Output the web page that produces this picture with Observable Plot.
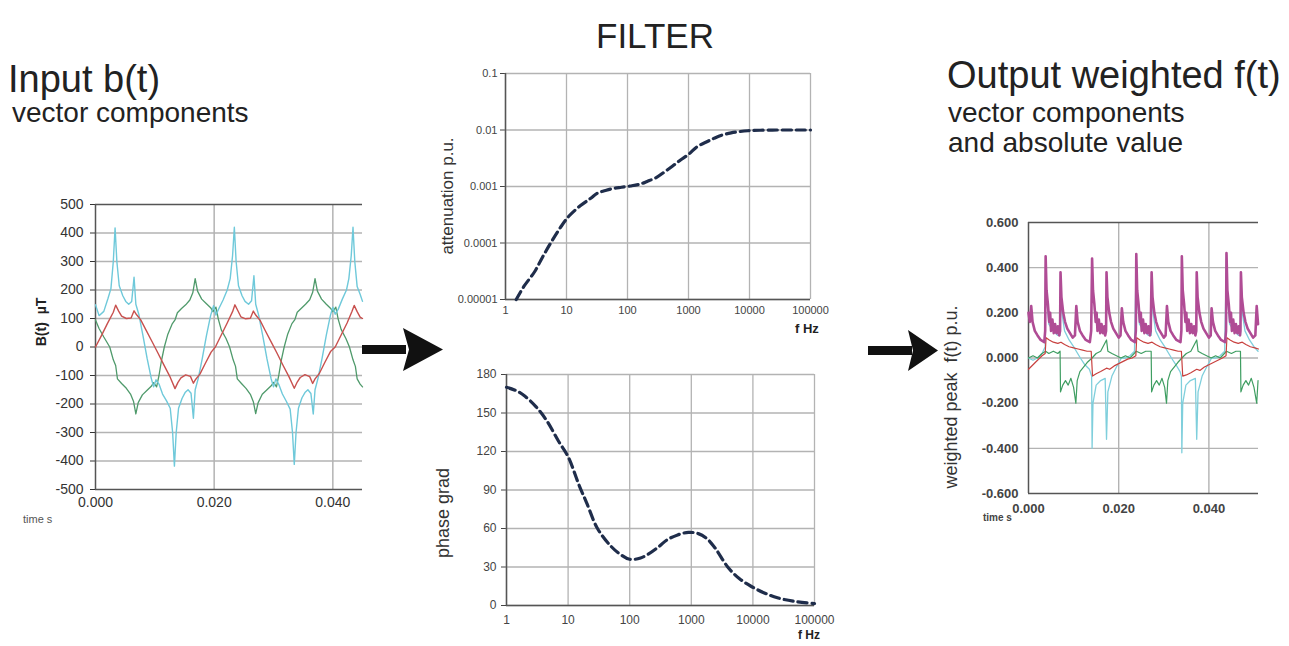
<!DOCTYPE html>
<html>
<head>
<meta charset="utf-8">
<script src="https://cdn.jsdelivr.net/npm/d3@7"></script>
<script src="https://cdn.jsdelivr.net/npm/@observablehq/plot@0.6"></script>
<style>
  html, body { margin: 0; padding: 0; background: #fff; }
  #root { position: relative; width: 1289px; height: 646px; overflow: hidden; font-family: 'Liberation Sans', Arial, sans-serif; }
  .chart { position: absolute; }
  #overlay { position: absolute; left: 0; top: 0; pointer-events: none; }
</style>
</head>
<body>
<div id="root">
  <div id="c1" class="chart" style="left:0px;top:190px"></div>
  <div id="c2" class="chart" style="left:420px;top:60px"></div>
  <div id="c3" class="chart" style="left:420px;top:360px"></div>
  <div id="c4" class="chart" style="left:960px;top:205px"></div>
  <svg id="overlay" width="1289" height="646"></svg>
</div>
<script>
// ---------- Input b(t): [time ms, value µT] ----------
const leftRed = [[0,0],[1,40],[2,82],[3,122],[3.4,147],[3.9,126],[4.4,108],[5.2,100],[6,102],[6.5,127],[6.9,114],[7.6,96],[8.5,60],[9.5,20],[10.5,-20],[11.5,-62],[12.5,-102],[13.4,-146],[13.9,-124],[14.4,-108],[15.2,-98],[16,-103],[16.5,-127],[16.9,-113],[17.6,-95],[18.5,-58],[19.5,-18],
[20.2,0],[21.2,42],[22.2,84],[23.1,124],[23.5,148],[24,127],[24.5,106],[25.3,99],[26.1,101],[26.6,126],[27,112],[27.7,95],[28.6,58],[29.6,18],[30.6,-22],[31.6,-64],[32.6,-104],[33.5,-145],[34,-123],[34.5,-107],[35.3,-97],[36.1,-104],[36.6,-128],[37,-112],[37.7,-94],[38.6,-56],[39.6,-16],
[40.4,0],[41.4,42],[42.4,84],[43.2,124],[43.6,146],[44.1,124],[44.6,105],[45,100]];

const leftCyan = [[0,148],[0.6,110],[1.4,125],[2.1,170],[2.6,205],[3.0,300],[3.3,418],[3.6,300],[4.0,215],[4.6,180],[5.1,160],[5.6,150],[6.1,160],[6.5,245],[6.8,150],[7.3,115],[8.0,40],[8.7,-40],[9.4,-110],[9.8,-140],[10.2,-115],[10.7,-130],[11.3,-165],[12.0,-190],[12.6,-215],[13.0,-300],[13.3,-418],[13.6,-300],[14.0,-215],[14.6,-180],[15.1,-160],[15.6,-150],[16.1,-162],[16.5,-250],[16.8,-150],[17.3,-112],[18.0,-40],[18.7,40],[19.4,110],[19.9,145],
[20.3,112],[20.8,135],[21.5,165],[22.2,200],[22.7,240],[23.1,320],[23.4,420],[23.7,300],[24.1,215],[24.7,180],[25.2,160],[25.8,150],[26.3,162],[26.7,250],[27,150],[27.5,112],[28.2,38],[28.9,-42],[29.6,-112],[30,-140],[30.4,-112],[30.9,-132],[31.5,-165],[32.2,-192],[32.8,-218],[33.2,-300],[33.5,-412],[33.8,-300],[34.2,-215],[34.8,-178],[35.3,-160],[35.8,-150],[36.3,-163],[36.7,-235],[37,-150],[37.5,-110],[38.2,-38],[38.9,42],[39.6,112],[40.0,140],
[40.4,115],[40.9,132],[41.6,168],[42.3,200],[42.7,240],[43.1,320],[43.4,420],[43.7,300],[44.1,212],[44.6,185],[45,160]];

const leftGreen = [[0,95],[0.6,65],[1.4,35],[2.4,0],[3.0,-45],[3.4,-65],[3.7,-112],[4.4,-128],[5.2,-145],[5.9,-165],[6.4,-190],[6.8,-235],[7.2,-195],[7.9,-168],[8.7,-152],[9.4,-138],[9.8,-125],[10.3,-140],[10.7,-100],[11.1,-50],[11.6,0],[12.2,45],[12.9,80],[13.4,95],[13.8,120],[14.5,135],[15.2,148],[15.9,165],[16.4,190],[16.8,240],[17.2,196],[17.9,168],[18.7,152],[19.4,138],[19.8,124],[20.3,140],
[20.7,98],[21.2,60],[22.0,30],[22.6,0],[23.2,-45],[23.6,-68],[23.9,-112],[24.6,-128],[25.4,-146],[26.1,-166],[26.6,-192],[27,-234],[27.4,-196],[28.1,-166],[28.9,-150],[29.6,-136],[30,-124],[30.5,-140],[30.9,-98],[31.3,-48],[31.8,0],[32.4,46],[33.1,82],[33.6,96],[34,122],[34.7,136],[35.4,150],[36.1,166],[36.6,192],[37,240],[37.4,196],[38.1,168],[38.9,150],[39.6,136],[40,124],[40.5,140],
[40.9,98],[41.4,62],[42.2,30],[42.8,0],[43.4,-45],[43.8,-68],[44.1,-112],[44.6,-130],[45,-140]];

const leftYTicks = [-500,-400,-300,-200,-100,0,100,200,300,400,500];
const leftXTicks = [0, 0.02, 0.04];

// ---------- Filter ----------
const attenFreq = [1.5,2,3,4,5.5,8,11,17,25,32,45,60,80,112,160,210,300,400,550,740,1000,1400,2000,2600,3500,5000,7000,9400,15000,30000,60000,100000];
const attenVal = [1e-5,1.7e-5,3.1e-5,5.5e-5,1e-4,1.9e-4,3e-4,4.6e-4,6.2e-4,7.6e-4,8.6e-4,9.3e-4,9.7e-4,1.02e-3,1.1e-3,1.23e-3,1.45e-3,1.8e-3,2.3e-3,2.95e-3,3.7e-3,5.1e-3,6.2e-3,7.1e-3,8.1e-3,8.9e-3,9.4e-3,9.7e-3,9.9e-3,1e-2,1e-2,1e-2];
const phaseFreq = [1,1.5,2,3,4.5,7,10,15,20,30,50,70,100,150,200,300,400,600,900,1300,1800,2500,3900,6000,9300,15000,25000,50000,100000];
const phaseVal = [170,167,163,155,144,128,116,94,80,60,46,40,36,37,40,46,51,55,57,56,52,44,30,21,15,10,6,3,1.5];
const freqTicks = [1,10,100,1000,10000,100000];
const attenTicks = [0.00001,0.0001,0.001,0.01,0.1];
const attenTickLabels = ["0.00001","0.0001","0.001","0.01","0.1"];
const phaseTicks = [0,30,60,90,120,150,180];

// ---------- Output weighted f(t): [time ms, value p.u.] ----------
const rightAbs = [[0,0.2],[0.3,0.16],[0.6,0.23],[0.9,0.16],[1.4,0.12],[2.0,0.1],[2.7,0.08],[3.5,0.07],[3.7,0.12],[3.8,0.45],[4.0,0.3],[4.3,0.24],[4.6,0.16],[4.8,0.2],[5.0,0.12],[5.3,0.17],[5.6,0.11],[5.9,0.15],[6.2,0.11],[6.5,0.14],[6.8,0.1],[7.0,0.12],[7.1,0.38],[7.3,0.27],[7.7,0.2],[8.1,0.16],[8.6,0.13],[9.2,0.11],[9.8,0.09],[10.3,0.1],
[10.6,0.23],[10.9,0.16],[11.4,0.12],[12.0,0.1],[12.7,0.08],[13.6,0.07],[13.9,0.12],[14.1,0.44],[14.3,0.3],[14.6,0.24],[14.9,0.16],[15.1,0.2],[15.3,0.12],[15.6,0.17],[15.9,0.11],[16.2,0.15],[16.5,0.11],[16.8,0.14],[17.0,0.1],[17.2,0.12],[17.3,0.38],[17.5,0.27],[17.9,0.2],[18.3,0.16],[18.8,0.13],[19.4,0.11],[20.0,0.09],[20.4,0.1],
[20.7,0.22],[21.0,0.16],[21.5,0.12],[22.1,0.1],[22.8,0.08],[23.6,0.07],[23.8,0.12],[23.9,0.46],[24.1,0.3],[24.4,0.24],[24.7,0.16],[24.9,0.2],[25.1,0.12],[25.4,0.17],[25.7,0.11],[26.0,0.15],[26.3,0.11],[26.6,0.14],[26.9,0.1],[27.1,0.12],[27.3,0.38],[27.5,0.27],[27.9,0.2],[28.3,0.16],[28.8,0.13],[29.4,0.11],[30.0,0.09],[30.4,0.1],
[30.7,0.23],[31.0,0.16],[31.5,0.12],[32.1,0.1],[32.8,0.08],[33.7,0.07],[33.9,0.12],[34.0,0.45],[34.2,0.3],[34.5,0.24],[34.8,0.16],[35.0,0.2],[35.2,0.12],[35.5,0.17],[35.8,0.11],[36.1,0.15],[36.4,0.11],[36.7,0.14],[37.0,0.1],[37.2,0.12],[37.3,0.38],[37.5,0.27],[37.9,0.2],[38.3,0.16],[38.8,0.13],[39.4,0.11],[40.0,0.09],[40.4,0.1],
[40.6,0.22],[40.9,0.16],[41.4,0.12],[42.0,0.1],[42.7,0.08],[43.6,0.07],[43.8,0.12],[43.9,0.465],[44.1,0.3],[44.4,0.24],[44.7,0.16],[44.9,0.2],[45.1,0.12],[45.4,0.17],[45.7,0.11],[46.0,0.15],[46.3,0.11],[46.6,0.14],[46.9,0.1],[47.0,0.12],[47.1,0.38],[47.3,0.27],[47.7,0.2],[48.1,0.16],[48.6,0.13],[49.2,0.11],[49.8,0.09],[50.3,0.1],[50.6,0.23],[50.9,0.15]];

const rightRed = [[0,-0.05],[1,-0.03],[2,-0.01],[3,0.01],[3.7,0.02],[3.9,0.09],[4.6,0.08],[5.5,0.07],[6.5,0.065],[7.2,0.07],[8,0.06],[9,0.05],[10,0.045],[11,0.04],[12,0.035],[13,0.03],[13.9,0.03],[14.2,-0.08],[15,-0.07],[16,-0.06],[17.3,-0.045],[18,-0.05],[19,-0.035],[20,-0.025],[21,-0.015],[22,-0.005],[23,0.0],[23.8,0.01],[24.0,0.09],[24.7,0.08],[25.6,0.07],[26.5,0.065],[27.4,0.07],[28.2,0.06],[29.2,0.05],[30.2,0.045],[31.2,0.04],[32.2,0.035],[33.2,0.03],[33.9,0.03],[34.2,-0.08],[35,-0.075],[36,-0.065],[37.3,-0.05],[38,-0.055],[39,-0.04],[40,-0.03],[41,-0.02],[42,-0.01],[43,0.0],[43.8,0.01],[44,0.09],[44.7,0.08],[45.6,0.07],[46.5,0.065],[47.4,0.07],[48.2,0.06],[49.2,0.05],[50.2,0.045],[51,0.04]];

const rightGreen = [[0,0.0],[1,0.01],[2,0.0],[3,0.02],[3.8,0.03],[4.5,0.02],[5.5,0.03],[6.5,0.02],[7.0,0.03],[7.1,-0.15],[7.6,-0.12],[8.2,-0.1],[8.8,-0.12],[9.4,-0.09],[10,-0.13],[10.5,-0.2],[10.8,-0.1],[11.4,-0.06],[12.2,-0.04],[13,-0.02],[14.1,0.0],[15,0.02],[16,0.03],[17.3,0.08],[17.6,0.03],[18.5,0.02],[19.5,0.01],[20.5,0.0],[21.5,0.01],[22.5,0.0],[23.9,0.03],[25,0.02],[26,0.03],[27.2,0.03],[27.3,-0.15],[27.8,-0.12],[28.4,-0.1],[29,-0.12],[29.6,-0.09],[30.2,-0.13],[30.6,-0.2],[30.9,-0.1],[31.5,-0.06],[32.3,-0.04],[33.1,-0.02],[34,0.0],[35,0.02],[36,0.03],[37.3,0.08],[37.6,0.03],[38.5,0.02],[39.5,0.01],[40.5,0.0],[41.5,0.01],[42.5,0.0],[43.9,0.03],[45,0.02],[46,0.03],[47,0.03],[47.1,-0.15],[47.6,-0.12],[48.2,-0.1],[48.8,-0.12],[49.4,-0.09],[50,-0.13],[50.6,-0.2],[50.9,-0.1]];

const rightCyan = [[0,0.0],[1,-0.01],[2,0.0],[3,0.02],[3.7,0.05],[3.8,0.44],[4.0,0.28],[4.5,0.15],[5.5,0.12],[6.5,0.1],[7.0,0.1],[7.1,0.37],[7.4,0.2],[8,0.12],[9,0.08],[10,0.05],[10.6,0.03],[11.5,0.0],[12.5,-0.03],[13.5,-0.05],[14.0,-0.08],[14.1,-0.4],[14.3,-0.2],[15,-0.12],[16,-0.1],[17.0,-0.09],[17.3,-0.36],[17.6,-0.15],[18.5,-0.08],[19.5,-0.04],[20.6,0.0],[21.5,0.0],[22.5,0.01],[23.5,0.03],[23.9,0.45],[24.1,0.28],[24.6,0.15],[25.6,0.12],[26.6,0.1],[27.2,0.1],[27.3,0.37],[27.6,0.2],[28.2,0.12],[29.2,0.08],[30.2,0.05],[30.8,0.03],[31.7,0.0],[32.7,-0.03],[33.6,-0.06],[33.9,-0.08],[34.0,-0.42],[34.2,-0.2],[34.9,-0.12],[35.9,-0.1],[37.0,-0.09],[37.3,-0.36],[37.6,-0.15],[38.5,-0.08],[39.5,-0.04],[40.6,0.0],[41.5,0.0],[42.5,0.01],[43.5,0.03],[43.9,0.46],[44.1,0.28],[44.6,0.15],[45.6,0.12],[46.6,0.1],[47.0,0.1],[47.1,0.37],[47.4,0.2],[48,0.12],[49,0.08],[50,0.05],[50.9,0.03]];

const rightYTicks = [-0.6,-0.4,-0.2,0,0.2,0.4,0.6];
const rightXTicks = [0, 0.02, 0.04];

// ---------- drawing ----------
const FONT = "'Liberation Sans', Arial, sans-serif";
const rows = arr => arr.map(([t, v]) => ({t: t / 1000, v}));
const GRID = "#b3b3b3", AXIS = "#555";

const c1 = Plot.plot({
  width: 372, height: 340, marginLeft: 95, marginRight: 10, marginTop: 14, marginBottom: 41,
  style: {fontFamily: FONT, fontSize: "14px", color: "#333", background: "transparent", overflow: "visible"},
  x: {domain: [0, 0.045], ticks: leftXTicks, tickFormat: d => d.toFixed(3), tickSize: 0, tickPadding: 8, label: null},
  y: {domain: [-500, 500], ticks: leftYTicks, tickFormat: d => String(d), tickSize: 5, tickPadding: 7, label: null},
  marks: [
    Plot.ruleY(leftYTicks.filter(v => v > -500 && v < 500), {stroke: GRID, strokeWidth: 1.5}),
    Plot.ruleX(leftXTicks.filter(v => v > 0), {stroke: GRID, strokeWidth: 1.5}),
    Plot.ruleY([-500, 500], {stroke: AXIS, strokeWidth: 1.5}),
    Plot.ruleX([0], {stroke: AXIS, strokeWidth: 1.5}),
    Plot.line(rows(leftGreen), {x: "t", y: "v", stroke: "#4f9a6b", strokeWidth: 1.3}),
    Plot.line(rows(leftCyan), {x: "t", y: "v", stroke: "#6fc9da", strokeWidth: 1.4}),
    Plot.line(rows(leftRed), {x: "t", y: "v", stroke: "#c8504e", strokeWidth: 1.4})
  ]
});
document.getElementById("c1").appendChild(c1);

const attenRows = attenFreq.map((f, i) => ({f, v: attenVal[i]}));
const phaseRows = phaseFreq.map((f, i) => ({f, v: phaseVal[i]}));

const c2 = Plot.plot({
  width: 420, height: 275, marginLeft: 85, marginRight: 30, marginTop: 13, marginBottom: 36,
  style: {fontFamily: FONT, fontSize: "11px", color: "#444", background: "transparent", overflow: "visible"},
  x: {type: "log", domain: [1, 100000], ticks: freqTicks, tickFormat: d => String(d), tickSize: 0, tickPadding: 7, label: null},
  y: {type: "log", domain: [0.00001, 0.1], ticks: attenTicks, tickFormat: d => attenTickLabels[attenTicks.indexOf(d)], tickSize: 5, tickPadding: 3, label: null},
  marks: [
    Plot.ruleY(attenTicks, {stroke: GRID, strokeWidth: 1.3}),
    Plot.ruleX(freqTicks, {stroke: GRID, strokeWidth: 1.3}),
    Plot.ruleY([0.00001], {stroke: AXIS, strokeWidth: 1.5}),
    Plot.ruleX([1], {stroke: AXIS, strokeWidth: 1.5}),
    Plot.line(attenRows, {x: "f", y: "v", stroke: "#1f2d4b", strokeWidth: 3.2, strokeDasharray: "9,5", curve: "catmull-rom"})
  ]
});
document.getElementById("c2").appendChild(c2);

const c3 = Plot.plot({
  width: 420, height: 286, marginLeft: 86, marginRight: 26, marginTop: 14, marginBottom: 41,
  style: {fontFamily: FONT, fontSize: "12px", color: "#444", background: "transparent", overflow: "visible"},
  x: {type: "log", domain: [1, 100000], ticks: freqTicks, tickFormat: d => String(d), tickSize: 0, tickPadding: 10, label: null},
  y: {domain: [0, 180], ticks: phaseTicks, tickFormat: d => String(d), tickSize: 5, tickPadding: 5, label: null},
  marks: [
    Plot.ruleY(phaseTicks, {stroke: GRID, strokeWidth: 1.3}),
    Plot.ruleX(freqTicks, {stroke: GRID, strokeWidth: 1.3}),
    Plot.ruleY([0], {stroke: AXIS, strokeWidth: 1.5}),
    Plot.ruleX([1], {stroke: AXIS, strokeWidth: 1.5}),
    Plot.line(phaseRows, {x: "f", y: "v", stroke: "#1f2d4b", strokeWidth: 3.2, strokeDasharray: "9,5", curve: "catmull-rom"})
  ]
});
document.getElementById("c3").appendChild(c3);

const c4 = Plot.plot({
  width: 329, height: 320, marginLeft: 68, marginRight: 31, marginTop: 17, marginBottom: 32,
  style: {fontFamily: FONT, fontSize: "13px", fontWeight: "bold", color: "#444", background: "transparent", overflow: "visible"},
  x: {domain: [0, 0.051], ticks: rightXTicks, tickFormat: d => d.toFixed(3), tickSize: 0, tickPadding: 10, label: null},
  y: {domain: [-0.6, 0.6], ticks: rightYTicks, tickFormat: d => d.toFixed(3), tickSize: 0, tickPadding: 10, label: null},
  marks: [
    Plot.ruleY(rightYTicks.filter(v => Math.abs(v) < 0.6), {stroke: GRID, strokeWidth: 1.4}),
    Plot.ruleX(rightXTicks.filter(v => v > 0), {stroke: GRID, strokeWidth: 1.4}),
    Plot.ruleY([-0.6, 0.6], {stroke: AXIS, strokeWidth: 1.5}),
    Plot.ruleX([0], {stroke: AXIS, strokeWidth: 1.5}),
    Plot.line(rows(rightCyan), {x: "t", y: "v", stroke: "#7fcfdc", strokeWidth: 1.3}),
    Plot.line(rows(rightGreen), {x: "t", y: "v", stroke: "#3f9e62", strokeWidth: 1.2}),
    Plot.line(rows(rightRed), {x: "t", y: "v", stroke: "#c8413f", strokeWidth: 1.2}),
    Plot.line(rows(rightAbs), {x: "t", y: "v", stroke: "#b04c95", strokeWidth: 2.6})
  ]
});
document.getElementById("c4").appendChild(c4);

// ---------- titles, axis titles, arrows ----------
const ov = document.getElementById("overlay");
ov.innerHTML = `
  <g font-family="${FONT}" fill="#222">
    <text x="655" y="48" font-size="35" text-anchor="middle">FILTER</text>
    <text x="8" y="92" font-size="38">Input b(t)</text>
    <text x="12" y="122" font-size="28">vector components</text>
    <text x="947" y="88" font-size="38">Output weighted f(t)</text>
    <text x="948" y="122" font-size="28">vector components</text>
    <text x="948" y="152" font-size="28">and absolute value</text>
    <text transform="translate(46,322) rotate(-90)" font-size="14" font-weight="bold" text-anchor="middle" xml:space="preserve">B(t)  µT</text>
    <text x="23" y="523" font-size="11" fill="#555">time s</text>
    <text transform="translate(453,196) rotate(-90)" font-size="17" text-anchor="middle" fill="#333">attenuation p.u.</text>
    <text transform="translate(449,513) rotate(-90)" font-size="18" text-anchor="middle" fill="#333">phase grad</text>
    <text transform="translate(957,397) rotate(-90)" font-size="18" text-anchor="middle" fill="#333" xml:space="preserve">weighted peak  f(t) p.u.</text>
    <text x="983" y="521" font-size="10" font-weight="bold" fill="#444">time s</text>
    <text x="795" y="333" font-size="13" font-weight="bold">f Hz</text>
    <text x="798" y="639" font-size="12" font-weight="bold">f Hz</text>
  </g>
  <g fill="#111">
    <rect x="362" y="345" width="44" height="9"/>
    <polygon points="403,328 443,349.5 403,371 409,349.5"/>
    <rect x="868" y="346" width="44" height="9"/>
    <polygon points="908,330 938,350.5 908,371 913,350.5"/>
  </g>`;
</script>
</body>
</html>
